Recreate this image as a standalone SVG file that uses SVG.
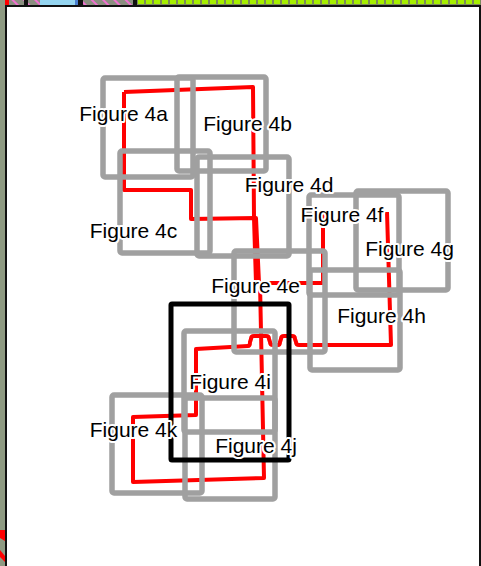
<svg xmlns="http://www.w3.org/2000/svg" width="481" height="566" viewBox="0 0 481 566">
<defs>
<style>
.box{fill:none;stroke:#a0a0a0;stroke-width:5.5;stroke-linejoin:round}
.hl{fill:none;stroke:#000;stroke-width:5;stroke-linejoin:round}
.wire{fill:none;stroke:#ff0000;stroke-width:4;stroke-linejoin:round;stroke-linecap:butt}
.lbl{font-family:"Liberation Sans",Arial,sans-serif;font-size:21px;fill:#000;text-anchor:middle;stroke:#fff;stroke-width:4;stroke-linejoin:round;paint-order:stroke}
</style>
<pattern id="tiles" x="137" y="0" width="8" height="5" patternUnits="userSpaceOnUse">
<rect width="8" height="5" fill="#7c8a5c"/>
<rect x="1" y="0" width="6" height="4" fill="#a6f000"/>
</pattern>
<pattern id="hatch" width="8" height="8" patternUnits="userSpaceOnUse" patternTransform="rotate(-45)">
<rect width="8" height="8" fill="#8a8f80"/>
<rect width="2" height="8" fill="#f070d0"/>
</pattern>
</defs>
<g id="frame">
<rect x="0" y="0" width="481" height="566" fill="#8e9a82"/>
<rect x="7" y="7" width="472" height="559" fill="#ffffff"/>
<rect x="137" y="0" width="344" height="5" fill="url(#tiles)"/>
<rect x="5" y="0" width="4" height="5" fill="#ff0000"/>
<rect x="9" y="0" width="15" height="5" fill="url(#hatch)"/>
<rect x="24" y="0" width="4" height="5" fill="#111"/>
<rect x="28" y="0" width="12" height="5" fill="url(#hatch)"/>
<rect x="40" y="0" width="35" height="5" fill="#95d5f0"/>
<rect x="75" y="0" width="3" height="5" fill="#4a7fd0"/>
<rect x="78" y="0" width="5" height="5" fill="#111"/>
<rect x="83" y="0" width="50" height="5" fill="url(#hatch)"/>
<rect x="133" y="0" width="4" height="5" fill="#111"/>
<polygon points="0,530 5,530 5,541 0,538" fill="#ff0000"/>
<polygon points="0,550 5,556 5,562 0,557" fill="#ff0000"/>
<rect x="5" y="5" width="476" height="2" fill="#111"/>
<rect x="5" y="5" width="2" height="561" fill="#111"/>
<rect x="479" y="5" width="2" height="561" fill="#111"/>
</g>
<g id="connectors">
<path class="wire" d="M124,92 L253,87 L254,218 L256,283"/>
<path class="wire" d="M124,92 L124,190 L191,190 L191,219 L256,218 L259,283"/>
<path class="wire" d="M258,283 L323,283 L323,212"/>
<path class="wire" d="M260,283 L264,478 L133,482 L133,417 L196,415 L196,349 L248,346 Q250,346 250,342 L251,339 Q251,336 254,336 L266,336 Q269,336 269,339 L270,342 Q270,345 273,345 L278,345 Q280,345 280,342 L281,339 Q281,336 284,336 L292,336 Q295,336 295,339 L296,342 Q296,345 299,345 L391,345 L387,212"/>
</g>
<g id="fig-4a"><rect class="box" x="103" y="78" width="90" height="99" rx="2"/></g>
<g id="fig-4b"><rect class="box" x="177" y="77" width="89" height="94" rx="2"/></g>
<g id="fig-4c"><rect class="box" x="120" y="151" width="90" height="102" rx="2"/></g>
<g id="fig-4d"><rect class="box" x="197" y="157" width="92" height="99" rx="2"/></g>
<g id="fig-4e"><rect class="box" x="234" y="251" width="91" height="101" rx="2"/></g>
<g id="fig-4f"><rect class="box" x="309" y="195" width="90" height="100" rx="2"/></g>
<g id="fig-4g"><rect class="box" x="356" y="191" width="92" height="99" rx="2"/></g>
<g id="fig-4h"><rect class="box" x="310" y="270" width="90" height="100" rx="2"/></g>
<g id="fig-4i"><rect class="box" x="184" y="331" width="91" height="101" rx="2"/></g>
<g id="fig-4j"><rect class="box" x="185" y="398" width="90" height="101" rx="2"/></g>
<g id="fig-4k"><rect class="box" x="112" y="395" width="90" height="98" rx="2"/></g>
<g id="selection"><rect class="hl" x="171" y="304" width="118" height="156" rx="1"/></g>
<g id="labels">
<text id="fig-4a-label" class="lbl" x="123.5" y="121">Figure 4a</text>
<text id="fig-4b-label" class="lbl" x="247.5" y="131">Figure 4b</text>
<text id="fig-4c-label" class="lbl" x="133.5" y="238">Figure 4c</text>
<text id="fig-4d-label" class="lbl" x="289" y="192">Figure 4d</text>
<text id="fig-4e-label" class="lbl" x="255.5" y="293">Figure 4e</text>
<text id="fig-4f-label" class="lbl" x="342" y="222">Figure 4f</text>
<text id="fig-4g-label" class="lbl" x="409.5" y="256">Figure 4g</text>
<text id="fig-4h-label" class="lbl" x="381.5" y="323">Figure 4h</text>
<text id="fig-4i-label" class="lbl" x="230" y="389">Figure 4i</text>
<text id="fig-4k-label" class="lbl" x="133.5" y="437">Figure 4k</text>
<text id="fig-4j-label" class="lbl" x="256" y="453">Figure 4j</text>
</g>
</svg>
